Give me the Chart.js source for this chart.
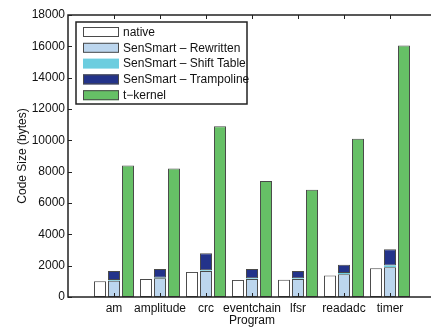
<!DOCTYPE html>
<html>
<head>
<meta charset="utf-8">
<script src="https://cdn.jsdelivr.net/npm/chart.js@4"></script>
<style>
  html, body { margin: 0; padding: 0; background: #fff; overflow: hidden; }
  #wrap { width: 440px; height: 329px; position: relative; }
</style>
</head>
<body>
<div id="wrap"><canvas id="chart"></canvas></div>
<script>
// Code size per program (bytes)
const programs = ['am', 'amplitude', 'crc', 'eventchain', 'lfsr', 'readadc', 'timer'];
const native = [1000, 1150, 1600, 1090, 1100, 1380, 1830];
const rewritten = [1040, 1190, 1660, 1150, 1150, 1450, 1900];
const shiftTable = [40, 40, 40, 40, 40, 80, 110];
const trampoline = [580, 560, 1090, 600, 470, 530, 1030];
const tkernel = [8400, 8200, 10900, 7400, 6850, 10100, 16050];
const yTicks = [0, 2000, 4000, 6000, 8000, 10000, 12000, 14000, 16000, 18000];

const font = 'Liberation Sans, Arial, Helvetica, sans-serif';
const edge = '#4a4a4a';

// xlim is [0, 8] in the original, so pad with empty slots on both ends
const pad = arr => [null].concat(arr, [null]);

const datasets = [
  { label: 'native', data: pad(native), backgroundColor: '#ffffff', stack: 'n' },
  { label: 'SenSmart \u2013 Rewritten', data: pad(rewritten), backgroundColor: '#bcd6ee', stack: 's' },
  { label: 'SenSmart \u2013 Shift Table', data: pad(shiftTable), backgroundColor: '#6ccddf', stack: 's', borderWidth: 0 },
  { label: 'SenSmart \u2013 Trampoline', data: pad(trampoline), backgroundColor: '#23338a', stack: 's' },
  { label: 't\u2212kernel', data: pad(tkernel), backgroundColor: '#66c066', stack: 't' }
];
datasets.forEach(d => {
  d.borderColor = edge;
  if (d.borderWidth === undefined) d.borderWidth = 1;
  d.borderSkipped = false;
  d.categoryPercentage = 0.913;
  d.barPercentage = 0.86;
});

// box around the plot with inward tick marks
const boxPlugin = {
  id: 'box',
  afterDatasetsDraw(chart) {
    const { ctx, chartArea: a, scales } = chart;
    ctx.save();
    ctx.strokeStyle = '#222';
    ctx.lineWidth = 1.5;
    ctx.strokeRect(a.left, a.top, a.right - a.left, a.bottom - a.top);
    ctx.lineWidth = 1;
    yTicks.forEach(v => {
      const y = Math.round(scales.y.getPixelForValue(v)) + 0.5;
      ctx.beginPath();
      ctx.moveTo(a.left, y); ctx.lineTo(a.left + 4, y);
      ctx.moveTo(a.right, y); ctx.lineTo(a.right - 4, y);
      ctx.stroke();
    });
    programs.forEach((p, i) => {
      const x = Math.round(scales.x.getPixelForValue(i + 1)) + 0.5;
      ctx.beginPath();
      ctx.moveTo(x, a.top); ctx.lineTo(x, a.top + 4);
      ctx.moveTo(x, a.bottom); ctx.lineTo(x, a.bottom - 4);
      ctx.stroke();
    });
    ctx.restore();
  }
};

// legend drawn inside the plot, top-left, boxed
const legendPlugin = {
  id: 'innerLegend',
  afterDraw(chart) {
    const { ctx, chartArea: a } = chart;
    const x0 = a.left + 8, y0 = a.top + 7, w = 171, h = 82;
    ctx.save();
    ctx.fillStyle = '#fff';
    ctx.fillRect(x0, y0, w, h);
    ctx.strokeStyle = '#222';
    ctx.lineWidth = 1.5;
    ctx.strokeRect(x0, y0, w, h);
    ctx.font = '12px ' + font;
    ctx.textBaseline = 'middle';
    datasets.forEach((d, i) => {
      const cy = y0 + 10 + i * 15.8;
      ctx.fillStyle = d.backgroundColor;
      ctx.fillRect(x0 + 7, cy - 5, 36, 10);
      if (d.borderWidth) {
        ctx.strokeStyle = edge;
        ctx.lineWidth = 1;
        ctx.strokeRect(x0 + 7.5, cy - 4.5, 35, 9);
      }
      ctx.fillStyle = '#111';
      ctx.fillText(d.label, x0 + 47, cy + 0.5);
    });
    ctx.restore();
  }
};

new Chart(document.getElementById('chart'), {
  type: 'bar',
  data: { labels: pad(programs).map(l => l === null ? '' : l), datasets: datasets },
  options: {
    responsive: true,
    maintainAspectRatio: false,
    animation: false,
    layout: { padding: { top: 15, right: 4, left: 0, bottom: 0 } },
    plugins: { legend: { display: false }, tooltip: { enabled: false } },
    scales: {
      x: {
        offset: false,
        grid: { display: false, drawTicks: false },
        border: { display: false },
        ticks: { color: '#111', font: { family: font, size: 12 }, padding: 4, maxRotation: 0, autoSkip: false },
        title: { display: true, text: 'Program', color: '#111', font: { family: font, size: 12 }, padding: { top: 0, bottom: 1 } },
        afterFit: s => { s.height = 32; }
      },
      y: {
        stacked: true,
        min: 0,
        max: 18000,
        grid: { display: false, drawTicks: false },
        border: { display: false },
        ticks: { stepSize: 2000, color: '#111', font: { family: font, size: 12 }, padding: 3, callback: v => String(v) },
        title: { display: true, text: 'Code Size (bytes)', color: '#111', font: { family: font, size: 12 }, padding: { top: 15, bottom: 0 } },
        afterFit: s => { s.width = 68; }
      }
    }
  },
  plugins: [boxPlugin, legendPlugin]
});
</script>
</body>
</html>
